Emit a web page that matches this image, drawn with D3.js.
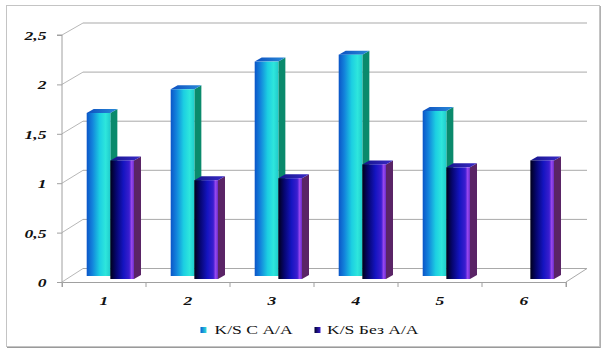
<!DOCTYPE html>
<html>
<head>
<meta charset="utf-8">
<script src="https://cdn.jsdelivr.net/npm/d3@7"></script>
<style>
html,body{margin:0;padding:0;background:#fff;}
svg{display:block;}
</style>
</head>
<body>
<svg id="chart" width="606" height="350"></svg>
<script>
const categories = ["1","2","3","4","5","6"];
const seriesNames = ["K/S С А/А", "K/S Без А/А"];
const seriesWith = [1.65, 1.89, 2.17, 2.24, 1.67, null];
const seriesWithout = [1.20, 1.00, 1.02, 1.16, 1.13, 1.20];
const yTicks = [0, 0.5, 1, 1.5, 2, 2.5];
const yTickLabels = ["0", "0,5", "1", "1,5", "2", "2,5"];

const svg = d3.select("#chart");
const defs = svg.append("defs");

function grad(id, stops, x2 = "100%", y2 = "0%") {
  const g = defs.append("linearGradient").attr("id", id)
    .attr("x1", "0%").attr("y1", "0%").attr("x2", x2).attr("y2", y2);
  stops.forEach(s => g.append("stop").attr("offset", s[0]).attr("stop-color", s[1]));
}
grad("cyanFront", [["0%","#0b55c8"],["25%","#1385dc"],["55%","#1ccfe2"],["80%","#2ee6dc"],["100%","#20cccc"]]);
grad("cyanTop", [["0%","#0c4fc0"],["100%","#2a8ad8"]]);
grad("darkFront", [["0%","#00001a"],["25%","#060670"],["55%","#1414c0"],["80%","#3a1ed0"],["90%","#9a48f0"],["100%","#6a2cc8"]]);
grad("darkTop", [["0%","#14148a"],["100%","#3a2ac8"]]);
grad("legCyan", [["0%","#0a60d0"],["100%","#30e0e0"]]);
grad("legDark", [["0%","#000030"],["100%","#3a20d0"]]);

// outer frame
svg.append("rect").attr("x", 6.5).attr("y", 5.5).attr("width", 593).attr("height", 341)
  .attr("fill", "#fff").attr("stroke", "#c4c4c4").attr("stroke-width", 1);
svg.append("line").attr("x1", 7).attr("x2", 600).attr("y1", 347.5).attr("y2", 347.5)
  .attr("stroke", "#9a9a9a").attr("stroke-width", 1);
svg.append("line").attr("x1", 600.5).attr("x2", 600.5).attr("y1", 6).attr("y2", 348)
  .attr("stroke", "#b0b0b0").attr("stroke-width", 1);

// scales
const x = d3.scaleBand().domain(categories).range([62, 566]);
const y = d3.scaleLinear().domain([0, 2.5]).range([282, 35]);
const yBack = d3.scaleLinear().domain([0, 2.5]).range([268.5, 23]);
const depthX = 21;
const inner = d3.scaleBand().domain(["a", "b"]).range([24.7, 72]);
const barDepth = [7, -4];
const baseOffset = { a: -6, b: -3 };

const grid = svg.append("g");
// back wall gridlines
yTicks.forEach(v => {
  grid.append("line").attr("x1", 62 + depthX).attr("x2", 566 + depthX)
    .attr("y1", yBack(v)).attr("y2", yBack(v))
    .attr("stroke", "#a9a9a9").attr("stroke-width", 1);
  // left wall diagonals
  grid.append("line").attr("x1", 62).attr("y1", y(v))
    .attr("x2", 62 + depthX).attr("y2", yBack(v))
    .attr("stroke", "#b8b8b8").attr("stroke-width", 1);
});
// floor
grid.append("line").attr("x1", 566).attr("y1", y(0)).attr("x2", 566 + depthX).attr("y2", yBack(0))
  .attr("stroke", "#a9a9a9");

// front axes
const yAxis = d3.axisLeft(y).tickValues(yTicks).tickSize(5).tickFormat("");
svg.append("g").attr("transform", "translate(62,0)").call(yAxis)
  .call(g => g.selectAll("line,path").attr("stroke", "#a0a0a0"))
  .call(g => g.select(".domain").attr("d", `M-5,${y(2.5)}H0V${y(0)}`));
const xAxis = d3.axisBottom(x).tickSize(5).tickFormat("").tickSizeOuter(5);
const xg = svg.append("g").attr("transform", `translate(0,${y(0)})`).call(xAxis);
xg.selectAll(".tick").remove();
xg.select(".domain").attr("stroke", "#a0a0a0");
categories.forEach((c, i) => {
  const tx = x(c) + x.bandwidth();
  xg.append("line").attr("x1", tx).attr("x2", tx).attr("y1", 0).attr("y2", 5).attr("stroke", "#a0a0a0");
});
xg.append("line").attr("x1", 62).attr("x2", 62).attr("y1", 0).attr("y2", 5).attr("stroke", "#a0a0a0");

// bars
function drawBar(g, left, w, base, top, front, topFill, side) {
  const [dx, dy] = barDepth;
  g.append("path").attr("d", `M${left+w},${top}L${left+w+dx},${top+dy}L${left+w+dx},${base+dy}L${left+w},${base}Z`)
    .attr("fill", side);
  g.append("path").attr("d", `M${left},${top}L${left+dx},${top+dy}L${left+w+dx},${top+dy}L${left+w},${top}Z`)
    .attr("fill", topFill);
  g.append("rect").attr("x", left).attr("y", top).attr("width", w).attr("height", base - top)
    .attr("fill", front);
}
const bars = svg.append("g");
const unit = y(0) - y(1);
categories.forEach((c, i) => {
  const g = bars.append("g");
  const vA = seriesWith[i];
  if (vA != null) {
    const base = y(0) + baseOffset.a;
    drawBar(g, x(c) + inner("a"), inner.bandwidth(), base, base - vA * unit,
      "url(#cyanFront)", "url(#cyanTop)", "#0a8a6c");
  }
  const vB = seriesWithout[i];
  if (vB != null) {
    const base = y(0) + baseOffset.b;
    drawBar(g, x(c) + inner("b"), inner.bandwidth(), base, base - vB * unit,
      "url(#darkFront)", "url(#darkTop)", "#5a2466");
  }
});

// labels
const labelFont = "'Liberation Serif','Times New Roman',serif";
function stretch(sel, f) {
  sel.each(function() {
    const L = this.getComputedTextLength();
    d3.select(this).attr("textLength", L * f).attr("lengthAdjust", "spacingAndGlyphs");
  });
}
const yl = svg.append("g").selectAll("text").data(yTicks).join("text")
  .attr("x", 46.5).attr("y", d => y(d) + 5)
  .attr("text-anchor", "end")
  .attr("font-family", labelFont).attr("font-size", 13).attr("font-weight", "bold").attr("font-style", "italic")
  .attr("fill", "#111")
  .text((d, i) => yTickLabels[i]);
stretch(yl, 1.35);
const xl = svg.append("g").selectAll("text").data(categories).join("text")
  .attr("x", d => x(d) + x.bandwidth() / 2).attr("y", 305)
  .attr("text-anchor", "middle")
  .attr("font-family", labelFont).attr("font-size", 13).attr("font-weight", "bold").attr("font-style", "italic")
  .attr("fill", "#111")
  .text(d => d);
stretch(xl, 1.35);

// legend
const legend = svg.append("g");
const legItems = [
  { name: seriesNames[0], fill: "url(#legCyan)", sx: 200.5, tx: 214.5 },
  { name: seriesNames[1], fill: "url(#legDark)", sx: 314.5, tx: 327 }
];
legItems.forEach(it => {
  legend.append("rect").attr("x", it.sx).attr("y", 327).attr("width", 6).attr("height", 6).attr("fill", it.fill);
  const t = legend.append("text").attr("x", it.tx).attr("y", 334.3)
    .attr("font-family", labelFont).attr("font-size", 11.5).attr("fill", "#111")
    .text(it.name);
  stretch(t, 1.53);
});
</script>
</body>
</html>
